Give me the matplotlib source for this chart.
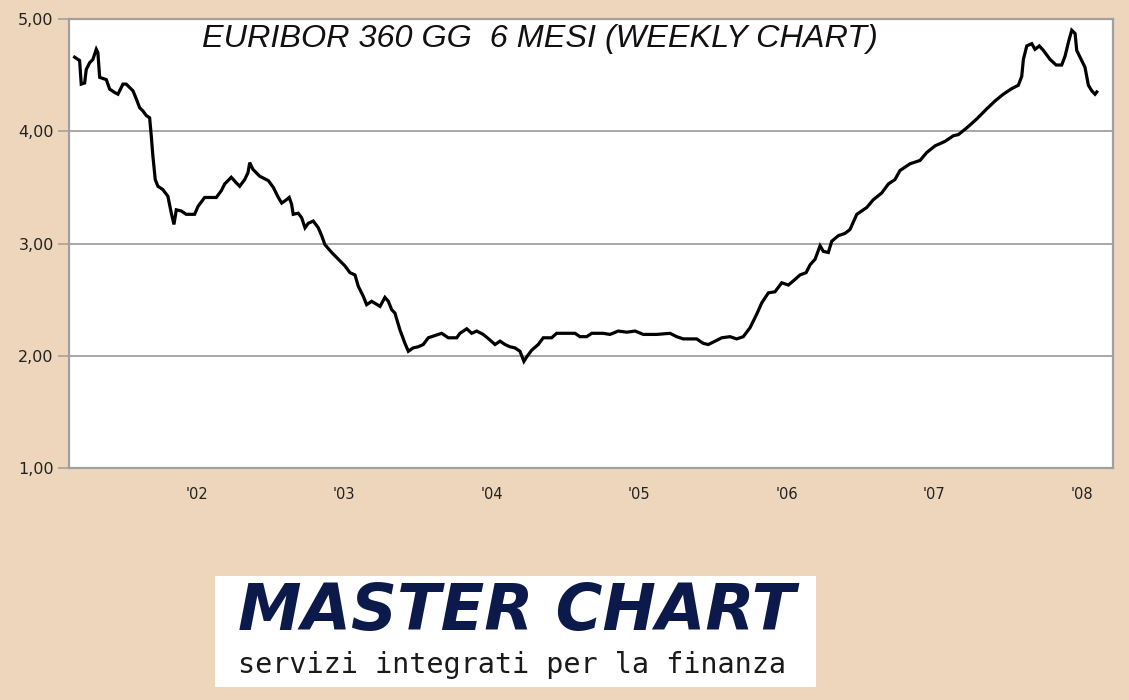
import matplotlib
matplotlib.use("Agg")
import matplotlib.pyplot as plt
from matplotlib.patches import Rectangle

# ---- data (decimal year, rate %) ----
years = [
    2001.170, 2001.204, 2001.215, 2001.238, 2001.249, 2001.272, 2001.294, 2001.317, 2001.328, 2001.340,
    2001.385, 2001.408, 2001.442, 2001.464, 2001.498, 2001.520, 2001.566, 2001.588, 2001.611, 2001.634,
    2001.656, 2001.679, 2001.690, 2001.701, 2001.717, 2001.735, 2001.769, 2001.803, 2001.826, 2001.844,
    2001.860, 2001.893, 2001.927, 2001.984, 2002.007, 2002.052, 2002.131, 2002.165, 2002.188, 2002.233,
    2002.267, 2002.290, 2002.324, 2002.346, 2002.358, 2002.380, 2002.425, 2002.484, 2002.518, 2002.552,
    2002.575, 2002.597, 2002.626, 2002.642, 2002.653, 2002.687, 2002.710, 2002.733, 2002.755, 2002.789,
    2002.823, 2002.846, 2002.868, 2002.914, 2002.959, 2003.004, 2003.038, 2003.072, 2003.094, 2003.128,
    2003.151, 2003.185, 2003.242, 2003.275, 2003.298, 2003.321, 2003.343, 2003.377, 2003.411, 2003.434,
    2003.467, 2003.501, 2003.535, 2003.569, 2003.615, 2003.660, 2003.705, 2003.762, 2003.784, 2003.830,
    2003.864, 2003.898, 2003.942, 2003.988, 2004.022, 2004.056, 2004.090, 2004.123, 2004.157, 2004.191,
    2004.218, 2004.237, 2004.271, 2004.315, 2004.349, 2004.406, 2004.440, 2004.508, 2004.564, 2004.598,
    2004.644, 2004.678, 2004.756, 2004.802, 2004.858, 2004.915, 2004.972, 2005.028, 2005.119, 2005.209,
    2005.254, 2005.299, 2005.390, 2005.435, 2005.469, 2005.514, 2005.560, 2005.616, 2005.661, 2005.706,
    2005.752, 2005.797, 2005.831, 2005.876, 2005.921, 2005.967, 2006.012, 2006.057, 2006.091, 2006.132,
    2006.159, 2006.193, 2006.227, 2006.249, 2006.283, 2006.306, 2006.351, 2006.396, 2006.430, 2006.476,
    2006.543, 2006.588, 2006.645, 2006.690, 2006.735, 2006.769, 2006.837, 2006.905, 2006.950, 2007.007,
    2007.075, 2007.131, 2007.165, 2007.222, 2007.290, 2007.358, 2007.414, 2007.470, 2007.527, 2007.572,
    2007.595, 2007.606, 2007.629, 2007.663, 2007.685, 2007.714, 2007.742, 2007.787, 2007.828, 2007.866,
    2007.889, 2007.911, 2007.934, 2007.957, 2007.968, 2008.002, 2008.024, 2008.047, 2008.070, 2008.092,
    2008.104,
]
rates = [
    4.66, 4.63, 4.42, 4.43, 4.55, 4.61, 4.64, 4.73, 4.70, 4.48,
    4.46, 4.375, 4.345, 4.33, 4.42, 4.42, 4.36, 4.29, 4.21, 4.18,
    4.14, 4.12, 3.96, 3.78, 3.57, 3.51, 3.48, 3.42, 3.27, 3.17,
    3.30, 3.29, 3.26, 3.26, 3.33, 3.41, 3.41, 3.47, 3.53, 3.59,
    3.54, 3.51, 3.57, 3.63, 3.72, 3.66, 3.60, 3.56, 3.50, 3.41,
    3.36, 3.38, 3.41, 3.35, 3.26, 3.27, 3.23, 3.14, 3.18, 3.20,
    3.14, 3.07, 2.99, 2.92, 2.86, 2.80, 2.74, 2.72, 2.62, 2.53,
    2.455, 2.485, 2.44, 2.52, 2.485, 2.41, 2.38, 2.23, 2.11, 2.04,
    2.07, 2.08, 2.10, 2.16, 2.18, 2.20, 2.16, 2.16, 2.20, 2.24,
    2.20, 2.22, 2.19, 2.14, 2.10, 2.13, 2.10, 2.08, 2.07, 2.04,
    1.95, 1.99, 2.05, 2.10, 2.16, 2.16, 2.20, 2.20, 2.20, 2.17,
    2.17, 2.20, 2.20, 2.19, 2.22, 2.21, 2.22, 2.19, 2.19, 2.20,
    2.17, 2.15, 2.15, 2.11, 2.10, 2.13, 2.16, 2.17, 2.15, 2.17,
    2.25, 2.37, 2.47, 2.56, 2.57, 2.65, 2.63, 2.68, 2.72, 2.74,
    2.81, 2.86, 2.98, 2.93, 2.92, 3.02, 3.07, 3.09, 3.125, 3.26,
    3.32, 3.39, 3.45, 3.53, 3.57, 3.65, 3.71, 3.74, 3.81, 3.87,
    3.91, 3.96, 3.97, 4.03, 4.11, 4.20, 4.27, 4.33, 4.38, 4.41,
    4.49, 4.64, 4.76, 4.78, 4.73, 4.76, 4.72, 4.64, 4.59, 4.59,
    4.67, 4.79, 4.90, 4.87, 4.72, 4.63, 4.57, 4.41, 4.36, 4.33,
    4.35,
]

year_ticks = [2002, 2003, 2004, 2005, 2006, 2007, 2008]
year_labels = ["'02", "'03", "'04", "'05", "'06", "'07", "'08"]
y_ticks = [1, 2, 3, 4, 5]
y_labels = ["1,00", "2,00", "3,00", "4,00", "5,00"]

title = "EURIBOR 360 GG  6 MESI (WEEKLY CHART)"
logo_main = "MASTER CHART"
logo_sub = "servizi integrati per la finanza"

BG = "#EED6BC"
GRID = "#A0A0A0"

fig = plt.figure(figsize=(11.29, 7.00), dpi=100, facecolor=BG)
ax = fig.add_axes([69 / 1129, 1 - 468 / 700, (1113 - 69) / 1129, (468 - 19) / 700])
ax.set_facecolor("white")

ax.plot(years, rates, color="black", linewidth=2.3, solid_joinstyle="miter", zorder=3)

ax.set_xlim(2001.132, 2008.214)
ax.set_ylim(1, 5)
ax.set_yticks(y_ticks)
ax.set_yticklabels(y_labels, fontsize=11.5, color="#222222", family="DejaVu Sans")
ax.set_xticks(year_ticks)
ax.set_xticklabels(year_labels, fontsize=10.5, color="#222222", family="DejaVu Sans")
ax.tick_params(axis="x", length=0, pad=14)
ax.tick_params(axis="y", length=8, color=GRID, width=1.2, pad=3)
ax.yaxis.grid(True, color=GRID, linewidth=1.3)
ax.set_axisbelow(True)
for s in ax.spines.values():
    s.set_color(GRID)
    s.set_linewidth(1.6)

ax.text((540 - 69) / 1044, 0.988, title, transform=ax.transAxes, ha="center", va="top",
        fontsize=23.3, style="italic", family="Liberation Sans", color="#111111")

# logo box
fig.patches.append(Rectangle((215 / 1129, 1 - 687 / 700), (816 - 215) / 1129, (687 - 576) / 700,
                             transform=fig.transFigure, facecolor="white", edgecolor="none"))
fig.text(517 / 1129, 1 - 612 / 700, logo_main, ha="center", va="center",
         fontsize=46, weight="heavy", style="italic", family="DejaVu Sans", color="#0B1A4A")
fig.text(512 / 1129, 1 - 665 / 700, logo_sub, ha="center", va="center",
         fontsize=20.5, family="DejaVu Sans Mono", color="#1a1a1a")

fig.savefig("out.png", dpi=100, facecolor=BG)
